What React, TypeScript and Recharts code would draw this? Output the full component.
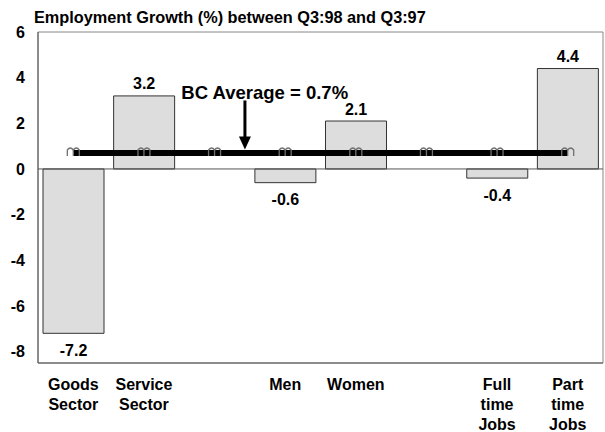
import {
  ComposedChart,
  Bar,
  Line,
  XAxis,
  YAxis,
  ReferenceLine,
  ReferenceArea,
  ReferenceDot,
  LabelList,
} from 'recharts'

// categories (blank slots are spacers in the original chart)
const categories = ['Goods\nSector', 'Service\nSector', '', 'Men', 'Women', '', 'Full\ntime\nJobs', 'Part\ntime\nJobs']
const growth: (number | null)[] = [-7.2, 3.2, null, -0.6, 2.1, null, -0.4, 4.4]
const bcAverage = 0.7
const yTicks = [-8, -6, -4, -2, 0, 2, 4, 6]
const avgLabel = 'BC Average = 0.7%'

const font = '"Liberation Sans", Arial, sans-serif'

const data = categories.map((name, i) => ({ name, idx: i, value: growth[i], avg: bcAverage }))

const XTick = (props: any) => {
  const { x, y, payload } = props
  const lines = String(payload.value).split('\n')
  return (
    <text x={x} y={y} textAnchor="middle" fontFamily={font} fontWeight="bold" fontSize={16} fill="#000">
      {lines.map((l, i) => (
        <tspan key={i} x={x} dy={i === 0 ? 18.5 : 20.3}>
          {l}
        </tspan>
      ))}
    </text>
  )
}

const ValueLabel = (props: any) => {
  const { x, y, width, height, value } = props
  if (value == null) return null
  const top = Math.min(y, y + height)
  const bottom = Math.max(y, y + height)
  const cy = value >= 0 ? top - 12 : bottom + 17
  return (
    <text
      x={x + width / 2}
      y={cy}
      textAnchor="middle"
      dominantBaseline="central"
      fontFamily={font}
      fontWeight="bold"
      fontSize={16}
      fill="#000"
    >
      {value}
    </text>
  )
}

// little gray book-ish marker on the average line
const AvgDot = (props: any) => {
  const { cx, cy } = props
  return (
    <g stroke="#707070" strokeWidth={1.3} fill="none">
      <path d={`M${cx - 6},${cy + 3} L${cx - 6},${cy - 3} Q${cx - 3},${cy - 7} ${cx},${cy - 3} Q${cx + 3},${cy - 7} ${cx + 6},${cy - 3} L${cx + 6},${cy + 3}`} />
      <line x1={cx} y1={cy - 3} x2={cx} y2={cy + 3} />
    </g>
  )
}

const ArrowHead = (props: any) => {
  const { cx, cy } = props
  return <path d={`M${cx - 6},${cy - 13} L${cx + 6},${cy - 13} L${cx},${cy} Z`} fill="#000" />
}

const AvgText = (props: any) => {
  const { cx, cy } = props
  return (
    <text x={cx} y={cy} dominantBaseline="central" fontFamily={font} fontWeight="bold" fontSize={18.5} fill="#000">
      {avgLabel}
    </text>
  )
}

export default function App() {
  return (
    <div style={{ position: 'absolute', left: 0, top: 0, width: 605, height: 432, background: '#fff' }}>
      <div
        style={{
          position: 'absolute',
          left: 34,
          top: 7,
          fontFamily: font,
          fontWeight: 'bold',
          fontSize: 16.3,
          lineHeight: '20px',
          color: '#000',
          whiteSpace: 'nowrap',
        }}
      >
        Employment Growth (%) between Q3:98 and Q3:97
      </div>
      <ComposedChart
        width={605}
        height={432}
        data={data}
        margin={{ top: 32, right: 2, bottom: 0, left: 0 }}
        barCategoryGap={5}
      >
        <XAxis
          dataKey="name"
          height={69}
          interval={0}
          tickLine={false}
          axisLine={{ stroke: '#555' }}
          tick={<XTick />}
        />
        <XAxis
          xAxisId="n"
          dataKey="idx"
          type="number"
          domain={[-0.5, 7.5]}
          allowDataOverflow
          padding={{ left: 0, right: 0 }}
          hide
        />
        <YAxis
          width={38}
          domain={[-8.5, 6]}
          ticks={yTicks}
          interval={0}
          tickLine={false}
          tickSize={5}
          tickMargin={8}
          axisLine={{ stroke: '#555' }}
          tick={{ fontFamily: font, fontWeight: 'bold', fontSize: 16, fill: '#000' }}
        />
        <ReferenceArea y1={-8.5} y2={6} fill="none" stroke="#888" strokeWidth={1} ifOverflow="visible" />
        <Bar dataKey="value" fill="#dddddd" stroke="#333" strokeWidth={1} isAnimationActive={false}>
          <LabelList dataKey="value" content={<ValueLabel />} />
        </Bar>
        <ReferenceLine y={0} stroke="#555" strokeWidth={1} />
        <Line
          dataKey="avg"
          stroke="#000"
          strokeWidth={6}
          dot={<AvgDot />}
          activeDot={false}
          isAnimationActive={false}
        />
        <ReferenceLine
          xAxisId="n"
          segment={[
            { x: 2.43, y: 3.0 },
            { x: 2.43, y: 1.2 },
          ]}
          stroke="#000"
          strokeWidth={3}
          ifOverflow="visible"
        />
        <ReferenceDot xAxisId="n" x={2.43} y={0.85} shape={<ArrowHead />} ifOverflow="visible" />
        <ReferenceDot xAxisId="n" x={1.53} y={3.35} shape={<AvgText />} ifOverflow="visible" />
      </ComposedChart>
    </div>
  )
}
